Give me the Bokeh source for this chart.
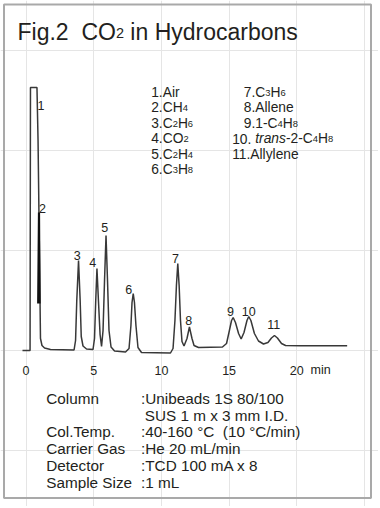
import re
from bokeh.plotting import figure
from bokeh.models import Range1d
from bokeh.core.properties import value
from bokeh.embed import file_html
from bokeh.resources import INLINE

# ---------------- data ----------------
time_min = [-0.26, 0.30, 0.33, 0.81, 0.89, 1.00, 1.07, 1.18, 1.37, 1.81, 3.55,
            3.66, 3.75, 3.88, 4.00, 4.08, 4.21, 4.47, 4.95,
            5.06, 5.15, 5.24, 5.35, 5.47, 5.58,
            5.69, 5.80, 5.91, 6.02, 6.13, 6.28, 6.54, 7.35,
            7.61, 7.75, 7.83, 7.92, 8.01, 8.12, 8.27, 8.53, 10.67,
            10.86, 11.00, 11.11, 11.21, 11.31, 11.41, 11.52, 11.67,
            11.89, 12.07, 12.26, 12.41, 12.74, 14.51,
            14.81, 14.99, 15.18, 15.30, 15.47, 15.70, 15.89,
            16.10, 16.32, 16.45, 16.61, 16.87, 17.17, 17.54,
            17.87, 18.13, 18.35, 18.57, 18.87, 19.17, 20.27, 23.72]
response = [0, 0, 263, 263, 210, 90, 12, 5, 2.5, 1, 0.5,
            10, 50, 90, 50, 14, 4.5, 1.5, 1,
            12, 50, 82, 50, 16, 4,
            20, 70, 115, 70, 20, 3.5, -0.5, -1.5,
            2, 25, 48, 57, 48, 25, 3, -2, -2.5,
            2, 30, 65, 87, 65, 30, 9, 4.5,
            12, 23.5, 12, 5, 3, 3.5,
            7, 18, 30, 33, 28, 17, 11.5,
            18, 30, 34, 30, 17, 9.5, 6.5,
            8, 12.5, 15, 12.5, 7, 5, 4.8, 4.7]
# CH4 spike riding on the air peak
ch4_time = [0.90, 0.96, 1.00]
ch4_resp = [47, 138, 47]

peak_numbers = ["1", "2", "3", "4", "5", "6", "7", "8", "9", "10", "11"]
legend_col1 = ["1.Air", "2.CH_4", "3.C_2H_6", "4.CO_2", "5.C_2H_4", "6.C_3H_8"]
legend_col2 = ["7.C_3H_6", "8.Allene", "9.1-C_4H_8", "10. *trans*-2-C_4H_8", "11.Allylene"]
tick_values = [0, 5, 10, 15, 20]
tick_labels = ["0", "5", "10", "15", "20"]
cond_names = ["Column", "", "Col.Temp.", "Carrier Gas", "Detector", "Sample Size"]
cond_values = [":Unibeads 1S 80/100", "SUS 1 m x 3 mm I.D.", ":40-160 °C  (10 °C/min)",
               ":He 20 mL/min", ":TCD 100 mA x 8", ":1 mL"]
title_text = "Fig.2  CO_2 in Hydrocarbons"

# ---------------- layout ----------------
W_PX, H_PX = 378, 506
X0_PX, PX_PER_MIN = 25.5, 13.54     # page x of t = 0, pixels per minute
Y0_PX = 350.0                       # page y of zero response (1 unit = 1 px)
FONT = "Liberation Sans"
TXT = "#231f20"

p = figure(width=W_PX, height=H_PX, output_backend="svg", toolbar_location=None,
           x_axis_location=None, y_axis_location=None, min_border=0,
           x_range=Range1d((0 - X0_PX) / PX_PER_MIN, (W_PX - X0_PX) / PX_PER_MIN),
           y_range=Range1d(Y0_PX - H_PX, Y0_PX))
p.extra_x_ranges = {"px": Range1d(0, W_PX)}
p.extra_y_ranges = {"px": Range1d(H_PX, 0)}
p.background_fill_color = "white"
p.border_fill_color = "white"
p.outline_line_color = None

# panel frame
p.quad(left=[3.5], right=[370.5], top=[4], bottom=[497.5], x_range_name="px",
       y_range_name="px", fill_color=None, line_color="#a9a9a9", line_width=2)

# chromatogram
p.line(time_min, response, line_color="#383838", line_width=1.5)
p.line(ch4_time, ch4_resp, line_color="#111111", line_width=2.2)

# character widths (Arial / Liberation Sans, 1/1000 em)
CW = {' ': 278, '.': 278, '-': 333, ':': 278, '/': 278, '(': 333, ')': 333, '°': 400,
      'A': 667, 'C': 722, 'D': 722, 'F': 611, 'H': 722, 'I': 278, 'O': 778, 'S': 667,
      'T': 611, 'U': 722, 'a': 556, 'b': 556, 'c': 500, 'd': 556, 'e': 556, 'g': 556,
      'i': 222, 'l': 222, 'm': 833, 'n': 556, 'o': 556, 'p': 556, 'r': 333, 's': 500,
      't': 278, 'u': 556, 'x': 500, 'y': 500, 'z': 500}


def tw(s, size):
    return sum(CW.get(c, 556) for c in s) * size / 1000.0


groups = {}


def rich(x, y, markup, size, sub_ratio=0.68):
    tokens = re.findall(r"_\d|\*[^*]+\*|[^_*]+", markup)
    for tok in tokens:
        if tok.startswith("_"):
            s, sz, st, dy = tok[1:], size * sub_ratio, "normal", 0.4
        elif tok.startswith("*"):
            s, sz, st, dy = tok[1:-1], size, "italic", 0.0
        else:
            s, sz, st, dy = tok, size, "normal", 0.0
        lead = len(s) - len(s.lstrip(" "))
        shown = s.strip(" ").replace("  ", " \u00a0")
        if shown:
            g = groups.setdefault((round(sz, 2), st), {"x": [], "y": [], "t": []})
            g["x"].append(x + tw(" " * lead, sz))
            g["y"].append(y + dy)
            g["t"].append(shown)
        x += tw(s, sz)


# title
rich(17, 31.7, title_text, 23, sub_ratio=0.63)
# legend
for i, s in enumerate(legend_col1):
    rich(150.7, 92.0 + 15.4 * i, s, 13.8)
for i, s in enumerate(legend_col2):
    rich(243.3 if i < 3 else 231.7, 92.0 + 15.4 * i, s, 13.8)
# conditions
for i, (n, v) in enumerate(zip(cond_names, cond_values)):
    yb = 397.8 + 16.8 * i
    if n:
        rich(45.7, yb, n, 15.3)
    rich(140.5 if v.startswith(":") else 144.2, yb, v, 15.3)

for (sz, st), g in groups.items():
    p.text(g["x"], g["y"], text=g["t"], x_range_name="px", y_range_name="px",
           text_font=value(FONT), text_font_size=f"{sz}px", text_font_style=st,
           text_color=TXT, text_align="left", text_baseline="alphabetic")

# peak labels
lab_x = [40.5, 42, 76.7, 92.3, 104.3, 128.3, 175, 188.3, 230, 248.3, 273.3]
lab_y = [105, 208.3, 255, 262, 226.8, 288.6, 258.3, 320, 311, 311, 323.6]
p.text(lab_x, lab_y, text=peak_numbers, x_range_name="px", y_range_name="px",
       text_font=value(FONT), text_font_size="12.5px", text_color=TXT,
       text_align="center", text_baseline="alphabetic")

# time axis labels
p.text(tick_values, [369.5] * len(tick_values), text=tick_labels, y_range_name="px",
       text_font=value(FONT), text_font_size="12.5px", text_color=TXT,
       text_align="center", text_baseline="alphabetic")
p.text([310], [369.5], text=["min"], x_range_name="px", y_range_name="px",
       text_font=value(FONT), text_font_size="12.5px", text_color=TXT,
       text_align="left", text_baseline="alphabetic")

open("out.html", "w").write(file_html(p, INLINE))
